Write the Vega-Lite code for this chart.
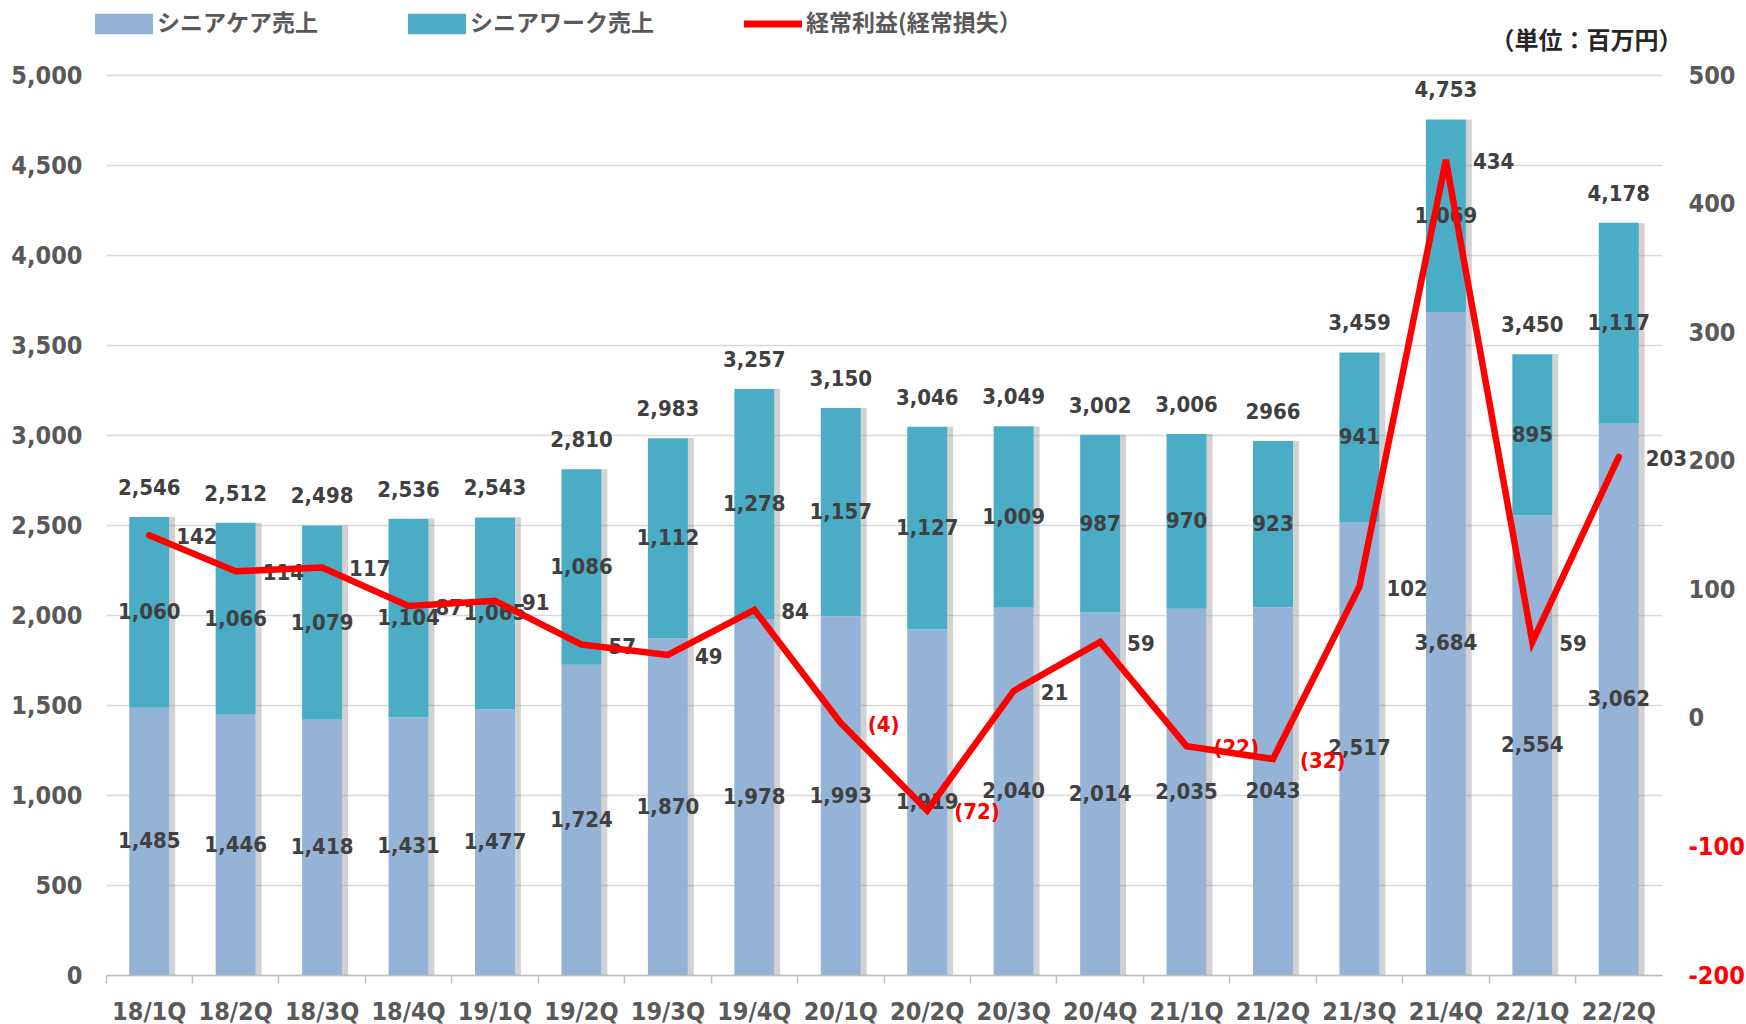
{
  "$schema": "https://vega.github.io/schema/vega-lite/v6.json",
  "width": 1556,
  "height": 900,
  "autosize": {"type": "none"},
  "padding": {"left": 106, "top": 75, "right": 84, "bottom": 49},
  "background": "white",
  "config": {"view": {"stroke": null}},
  "datasets": {
    "bars": [
      {"q": "18/1Q", "series": "シニアケア売上", "value": 1485, "label": "1,485"},
      {"q": "18/1Q", "series": "シニアワーク売上", "value": 1060, "label": "1,060"},
      {"q": "18/2Q", "series": "シニアケア売上", "value": 1446, "label": "1,446"},
      {"q": "18/2Q", "series": "シニアワーク売上", "value": 1066, "label": "1,066"},
      {"q": "18/3Q", "series": "シニアケア売上", "value": 1418, "label": "1,418"},
      {"q": "18/3Q", "series": "シニアワーク売上", "value": 1079, "label": "1,079"},
      {"q": "18/4Q", "series": "シニアケア売上", "value": 1431, "label": "1,431"},
      {"q": "18/4Q", "series": "シニアワーク売上", "value": 1104, "label": "1,104"},
      {"q": "19/1Q", "series": "シニアケア売上", "value": 1477, "label": "1,477"},
      {"q": "19/1Q", "series": "シニアワーク売上", "value": 1065, "label": "1,065"},
      {"q": "19/2Q", "series": "シニアケア売上", "value": 1724, "label": "1,724"},
      {"q": "19/2Q", "series": "シニアワーク売上", "value": 1086, "label": "1,086"},
      {"q": "19/3Q", "series": "シニアケア売上", "value": 1870, "label": "1,870"},
      {"q": "19/3Q", "series": "シニアワーク売上", "value": 1112, "label": "1,112"},
      {"q": "19/4Q", "series": "シニアケア売上", "value": 1978, "label": "1,978"},
      {"q": "19/4Q", "series": "シニアワーク売上", "value": 1278, "label": "1,278"},
      {"q": "20/1Q", "series": "シニアケア売上", "value": 1993, "label": "1,993"},
      {"q": "20/1Q", "series": "シニアワーク売上", "value": 1157, "label": "1,157"},
      {"q": "20/2Q", "series": "シニアケア売上", "value": 1919, "label": "1,919"},
      {"q": "20/2Q", "series": "シニアワーク売上", "value": 1127, "label": "1,127"},
      {"q": "20/3Q", "series": "シニアケア売上", "value": 2040, "label": "2,040"},
      {"q": "20/3Q", "series": "シニアワーク売上", "value": 1009, "label": "1,009"},
      {"q": "20/4Q", "series": "シニアケア売上", "value": 2014, "label": "2,014"},
      {"q": "20/4Q", "series": "シニアワーク売上", "value": 987, "label": "987"},
      {"q": "21/1Q", "series": "シニアケア売上", "value": 2035, "label": "2,035"},
      {"q": "21/1Q", "series": "シニアワーク売上", "value": 970, "label": "970"},
      {"q": "21/2Q", "series": "シニアケア売上", "value": 2043, "label": "2043"},
      {"q": "21/2Q", "series": "シニアワーク売上", "value": 923, "label": "923"},
      {"q": "21/3Q", "series": "シニアケア売上", "value": 2517, "label": "2,517"},
      {"q": "21/3Q", "series": "シニアワーク売上", "value": 941, "label": "941"},
      {"q": "21/4Q", "series": "シニアケア売上", "value": 3684, "label": "3,684"},
      {"q": "21/4Q", "series": "シニアワーク売上", "value": 1069, "label": "1,069"},
      {"q": "22/1Q", "series": "シニアケア売上", "value": 2554, "label": "2,554"},
      {"q": "22/1Q", "series": "シニアワーク売上", "value": 895, "label": "895"},
      {"q": "22/2Q", "series": "シニアケア売上", "value": 3062, "label": "3,062"},
      {"q": "22/2Q", "series": "シニアワーク売上", "value": 1117, "label": "1,117"}
    ],
    "quarters": [
      {"q": "18/1Q", "total": 2546, "totalLabel": "2,546", "profit": 142, "profitLabel": "142"},
      {"q": "18/2Q", "total": 2512, "totalLabel": "2,512", "profit": 114, "profitLabel": "114"},
      {"q": "18/3Q", "total": 2498, "totalLabel": "2,498", "profit": 117, "profitLabel": "117"},
      {"q": "18/4Q", "total": 2536, "totalLabel": "2,536", "profit": 87, "profitLabel": "87"},
      {"q": "19/1Q", "total": 2543, "totalLabel": "2,543", "profit": 91, "profitLabel": "91"},
      {"q": "19/2Q", "total": 2810, "totalLabel": "2,810", "profit": 57, "profitLabel": "57"},
      {"q": "19/3Q", "total": 2983, "totalLabel": "2,983", "profit": 49, "profitLabel": "49"},
      {"q": "19/4Q", "total": 3257, "totalLabel": "3,257", "profit": 84, "profitLabel": "84"},
      {"q": "20/1Q", "total": 3150, "totalLabel": "3,150", "profit": -4, "profitLabel": "(4)"},
      {"q": "20/2Q", "total": 3046, "totalLabel": "3,046", "profit": -72, "profitLabel": "(72)"},
      {"q": "20/3Q", "total": 3049, "totalLabel": "3,049", "profit": 21, "profitLabel": "21"},
      {"q": "20/4Q", "total": 3002, "totalLabel": "3,002", "profit": 59, "profitLabel": "59"},
      {"q": "21/1Q", "total": 3006, "totalLabel": "3,006", "profit": -22, "profitLabel": "(22)"},
      {"q": "21/2Q", "total": 2966, "totalLabel": "2966", "profit": -32, "profitLabel": "(32)"},
      {"q": "21/3Q", "total": 3459, "totalLabel": "3,459", "profit": 102, "profitLabel": "102"},
      {"q": "21/4Q", "total": 4753, "totalLabel": "4,753", "profit": 434, "profitLabel": "434"},
      {"q": "22/1Q", "total": 3450, "totalLabel": "3,450", "profit": 59, "profitLabel": "59"},
      {"q": "22/2Q", "total": 4178, "totalLabel": "4,178", "profit": 203, "profitLabel": "203"}
    ]
  },
  "encoding": {
    "x": {
      "field": "q", "type": "nominal",
      "scale": {"domain": ["18/1Q","18/2Q","18/3Q","18/4Q","19/1Q","19/2Q","19/3Q","19/4Q","20/1Q","20/2Q","20/3Q","20/4Q","21/1Q","21/2Q","21/3Q","21/4Q","22/1Q","22/2Q"], "paddingInner": 0, "paddingOuter": 0},
      "axis": {"title": null, "labelAngle": 0, "bandPosition": 0, "tickSize": 8, "tickColor": "#bfbfbf", "tickWidth": 1.5, "domainColor": "#bfbfbf", "domainWidth": 1.5, "labelPadding": 16, "labelFont": "DejaVu Sans Condensed, sans-serif", "labelFontSize": 25, "labelFontWeight": "bold", "labelColor": "#595959", "grid": false}
    }
  },
  "layer": [
    {
      "layer": [
        {
          "data": {"name": "quarters"},
          "mark": {"type": "rule", "strokeWidth": 6, "color": "#7f7f7f", "opacity": 0.35},
          "encoding": {
            "x": {"field": "q", "type": "nominal", "bandPosition": 0.765},
            "y": {"field": "total", "type": "quantitative"},
            "y2": {"datum": 0}
          }
        },
        {
          "data": {"name": "bars"},
          "mark": {"type": "bar", "size": 40},
          "encoding": {
            "y": {"field": "value", "type": "quantitative", "stack": "zero",
              "scale": {"domain": [0, 5000]},
              "axis": {"title": null, "values": [0,500,1000,1500,2000,2500,3000,3500,4000,4500,5000], "labelExpr": "format(datum.value, ',')", "grid": true, "gridColor": "#d9d9d9", "gridWidth": 1.5, "domain": false, "ticks": false, "labelPadding": 24, "labelFont": "DejaVu Sans Condensed, sans-serif", "labelFontSize": 25, "labelFontWeight": "bold", "labelColor": "#595959"}},
            "order": {"field": "series", "sort": "ascending"},
            "color": {
              "field": "series", "type": "nominal",
              "scale": {"domain": ["シニアケア売上", "シニアワーク売上", "経常利益(経常損失）"], "range": ["#95b3d7", "#4bacc6", "#ff0000"]},
              "legend": {
                "orient": "none", "legendX": -11, "legendY": -80, "direction": "horizontal", "title": null,
                "labelFont": "Noto Sans CJK JP", "labelFontSize": 23, "labelFontWeight": "bold", "labelColor": "#595959", "labelLimit": 500,
                "symbolSize": 3364, "labelOffset": 4, "columnPadding": 90, "symbolStrokeWidth": 0,
                "encode": {"symbols": {"update": {
                  "shape": {"signal": "datum.value === '経常利益(経常損失）' ? 'M-1,-0.12H1V0.12H-1Z' : 'M-1,-0.35H1V0.35H-1Z'"},
                  "fill": {"scale": "color", "field": "value"},
                  "opacity": {"value": 1}
                }}}
              }
            }
          }
        },
        {
          "data": {"name": "bars"},
          "mark": {"type": "text", "baseline": "middle", "font": "DejaVu Sans Condensed, sans-serif", "fontSize": 22, "fontWeight": "bold", "color": "#404040"},
          "encoding": {
            "y": {"field": "value", "type": "quantitative", "stack": "zero", "bandPosition": 0.5},
            "order": {"field": "series", "sort": "ascending"},
            "detail": {"field": "series"},
            "text": {"field": "label"}
          }
        },
        {
          "data": {"name": "quarters"},
          "mark": {"type": "text", "baseline": "middle", "dy": -29, "font": "DejaVu Sans Condensed, sans-serif", "fontSize": 22, "fontWeight": "bold", "color": "#404040"},
          "encoding": {
            "y": {"field": "total", "type": "quantitative"},
            "text": {"field": "totalLabel"}
          }
        }
      ]
    },
    {
      "data": {"name": "quarters"},
      "layer": [
        {
          "mark": {"type": "text", "align": "left", "baseline": "middle", "dx": 27, "dy": 2, "font": "DejaVu Sans Condensed, sans-serif", "fontSize": 22, "fontWeight": "bold"},
          "encoding": {
            "y": {"field": "profit", "type": "quantitative"},
            "text": {"field": "profitLabel"},
            "color": {"condition": {"test": "datum.profit < 0", "value": "#ff0000"}, "value": "#404040"}
          }
        },
        {
          "mark": {"type": "line", "strokeWidth": 6.5, "strokeJoin": "miter", "strokeCap": "round"},
          "encoding": {
            "y": {"field": "profit", "type": "quantitative",
              "scale": {"domain": [-200, 500]},
              "axis": {"orient": "right", "title": "（単位：百万円）", "titleAngle": 0, "titleAlign": "right", "titleBaseline": "middle", "titleX": 20, "titleY": -34, "titleFont": "Noto Sans CJK JP", "titleFontSize": 24, "titleFontWeight": "bold", "titleColor": "#262626",
                "values": [-200,-100,0,100,200,300,400,500], "grid": false, "domain": false, "ticks": false, "labelPadding": 26, "labelAlign": "left",
                "labelExpr": "datum.value < 0 ? '-' + abs(datum.value) : '' + datum.value",
                "labelFont": "DejaVu Sans Condensed, sans-serif", "labelFontSize": 25, "labelFontWeight": "bold",
                "labelColor": {"condition": {"test": "datum.value < 0", "value": "#ff0000"}, "value": "#595959"}}},
            "color": {"datum": "経常利益(経常損失）"}
          }
        }
      ]
    }
  ],
  "resolve": {"scale": {"y": "independent"}}
}
